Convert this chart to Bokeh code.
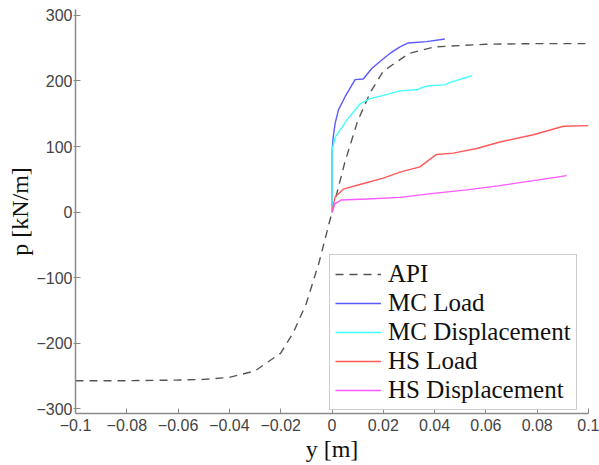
from bokeh.plotting import figure
from bokeh.models import Range1d, FixedTicker, Legend, LegendItem
from bokeh.embed import file_html
from bokeh.resources import INLINE

# API p-y curve
api_y = [-0.1, -0.08, -0.06, -0.05, -0.04, -0.03, -0.02, -0.015, -0.01, -0.005, 0.0,
         0.005, 0.01, 0.015, 0.02, 0.03, 0.04, 0.06, 0.08, 0.1]
api_p = [-257, -257, -256, -255, -252, -242, -215, -183, -139, -76, 0,
         76, 139, 183, 215, 242, 252, 256, 257, 257]

# MC Load
mcl_y = [0.0, 0.0, 0.0005, 0.0012, 0.0025, 0.0051, 0.009, 0.0122, 0.0155, 0.0194,
         0.0226, 0.0265, 0.0297, 0.0369, 0.044]
mcl_p = [0, 92, 115, 135, 156, 176, 202, 203, 219, 232, 242, 252, 258, 260, 264]

# MC Displacement
mcd_y = [0.0, 0.0, 0.0012, 0.0057, 0.0109, 0.0148, 0.02, 0.0265, 0.0336, 0.035,
         0.0382, 0.044, 0.046, 0.0545]
mcd_p = [0, 94, 114, 140, 165, 173, 178, 185, 187, 190, 193, 194, 198, 208]

# HS Load
hsl_y = [0.0, 0.0012, 0.0044, 0.0116, 0.02, 0.0265, 0.0343, 0.0376, 0.0408, 0.0473,
         0.0564, 0.0655, 0.0785, 0.0902, 0.1]
hsl_p = [0, 23, 35, 43, 52, 61, 69, 79, 88, 90, 97, 107, 118, 131, 132]

# HS Displacement
hsd_y = [0.0, 0.0011, 0.0037, 0.0135, 0.0265, 0.0395, 0.0525, 0.0655, 0.0785, 0.0915]
hsd_p = [0, 12.5, 18.6, 20, 22.6, 28.7, 33.9, 40.5, 48, 55.7]

x_ticks = [-0.1, -0.08, -0.06, -0.04, -0.02, 0, 0.02, 0.04, 0.06, 0.08, 0.1]
x_tick_labels = ["\u22120.1", "\u22120.08", "\u22120.06", "\u22120.04", "\u22120.02", "0",
                 "0.02", "0.04", "0.06", "0.08", "0.1"]
y_ticks = [-300, -200, -100, 0, 100, 200, 300]
y_tick_labels = ["\u2212300", "\u2212200", "\u2212100", "0", "100", "200", "300"]

p = figure(width=599, height=465, output_backend="svg", toolbar_location=None,
           x_range=Range1d(-0.1, 0.1), y_range=Range1d(-307, 309),
           min_border_left=75, min_border_right=11, min_border_top=9, min_border_bottom=52)
p.outline_line_color = None
p.xgrid.visible = False
p.ygrid.visible = False
p.background_fill_color = "white"
p.border_fill_color = "white"

r_api = p.line(api_y, api_p, line_color="#555555", line_width=1.4, line_dash="8 6")
r_mcl = p.line(mcl_y, mcl_p, line_color="#5a5aff", line_width=1.4)
r_mcd = p.line(mcd_y, mcd_p, line_color="#40ffff", line_width=1.4)
r_hsl = p.line(hsl_y, hsl_p, line_color="#ff5a5a", line_width=1.4)
r_hsd = p.line(hsd_y, hsd_p, line_color="#ff5aff", line_width=1.4)

for ax in (p.xaxis[0], p.yaxis[0]):
    ax.axis_line_color = "#8a8a8a"
    ax.axis_line_width = 1.5
    ax.major_tick_line_color = "#8a8a8a"
    ax.major_tick_line_width = 1
    ax.minor_tick_line_color = None
    ax.major_label_text_font = "Liberation Sans"
    ax.major_label_text_font_size = "16px"
    ax.major_label_text_color = "#444444"
    ax.axis_label_text_font = "Liberation Serif"
    ax.axis_label_text_font_size = "24px"
    ax.axis_label_text_font_style = "normal"
    ax.axis_label_text_color = "#111111"

p.xaxis.ticker = FixedTicker(ticks=x_ticks)
p.xaxis.major_label_overrides = dict(zip(x_ticks, x_tick_labels))
p.yaxis.ticker = FixedTicker(ticks=y_ticks)
p.yaxis.major_label_overrides = dict(zip(y_ticks, y_tick_labels))
p.xaxis.major_tick_in = 5
p.xaxis.major_tick_out = 0
p.yaxis.major_tick_in = 5
p.yaxis.major_tick_out = 2
p.xaxis.major_label_standoff = 5
p.yaxis.major_label_standoff = 1
p.xaxis.axis_label = "y [m]"
p.yaxis.axis_label = "p [kN/m]"
p.xaxis.axis_label_standoff = 2
p.yaxis.axis_label_standoff = 0

legend = Legend(items=[
    LegendItem(label="API", renderers=[r_api]),
    LegendItem(label="MC Load", renderers=[r_mcl]),
    LegendItem(label="MC Displacement", renderers=[r_mcd]),
    LegendItem(label="HS Load", renderers=[r_hsl]),
    LegendItem(label="HS Displacement", renderers=[r_hsd]),
], location=(254, 3))
legend.label_text_font = "Liberation Serif"
legend.label_text_font_size = "25px"
legend.label_text_color = "#111111"
legend.glyph_width = 46
legend.label_standoff = 7
legend.padding = 5
legend.spacing = 1
legend.border_line_color = "#999999"
legend.border_line_width = 1
legend.background_fill_color = "white"
legend.background_fill_alpha = 1
legend.margin = 0
p.add_layout(legend, "center")

open("out.html", "w").write(file_html(p, INLINE))
